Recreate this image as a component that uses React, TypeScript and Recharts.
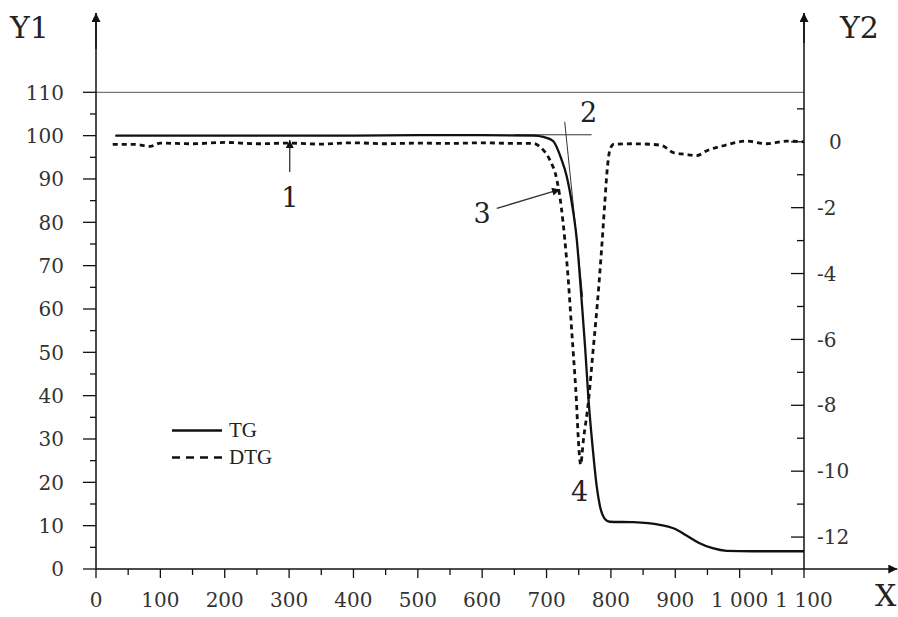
import React from "react";
import {
  ComposedChart,
  Line,
  XAxis,
  YAxis,
  ReferenceLine,
  ReferenceDot,
  Legend,
} from "recharts";

// TG curve (left axis, %)
const tgTemp = [30, 100, 200, 300, 400, 500, 600, 680, 695, 710, 723, 731, 739, 747, 754, 760, 765, 772, 778, 783, 791, 798, 835, 876, 897, 918, 937, 958, 980, 1020, 1100];
const tgMass = [100, 100, 100, 100, 100, 100.1, 100.1, 100, 99.7, 98.8, 94.6, 90.8, 84.7, 76, 63, 51, 39.5, 27.5, 19, 14.5, 11.5, 10.9, 10.8, 10.2, 9.4, 7.7, 6, 4.8, 4.2, 4.1, 4.1];

// DTG curve (right axis)
const dtgTemp = [26, 60, 84, 100, 150, 200, 250, 300, 350, 400, 450, 500, 550, 600, 650, 680, 690, 705, 716, 723, 728.5, 734, 739, 741.5, 746.5, 749, 752, 753, 757, 765, 772, 779, 785, 790, 794, 798, 804, 835, 865, 880, 897, 915, 933, 949, 975, 1011, 1042, 1073, 1100];
const dtgRate = [-0.08, -0.08, -0.14, -0.04, -0.06, -0.02, -0.06, -0.04, -0.07, -0.03, -0.06, -0.04, -0.05, -0.03, -0.05, -0.05, -0.16, -0.55, -1.15, -2.0, -3.0, -4.25, -5.7, -6.4, -7.9, -8.9, -9.7, -9.8, -9.1, -7.9, -6.4, -4.9, -3.4, -2.0, -0.9, -0.28, -0.08, -0.06, -0.08, -0.12, -0.33, -0.38, -0.42, -0.27, -0.12, 0.02, -0.06, 0.02, 0];

const xTicks = Array.from({ length: 23 }, (_, i) => i * 50);
const y1Ticks = Array.from({ length: 23 }, (_, i) => i * 5);
const y2Ticks = [1, 0, -1, -2, -3, -4, -5, -6, -7, -8, -9, -10, -11, -12];

const tgData = tgTemp.map((t, i) => ({ t, tg: tgMass[i] }));
const dtgData = dtgTemp.map((t, i) => ({ t, dtg: dtgRate[i] }));

const legendItems = [
  { name: "TG", dash: undefined },
  { name: "DTG", dash: "8 6" },
];

const Y1_MAX = 128.3;
const Y2_DOMAIN: [number, number] = [-12.97, 3.91];
const INK = "#111";
const tickFont = { fontFamily: "DejaVu Serif", fontSize: 20, fill: "#333" };
const noteFont = { fontFamily: "DejaVu Serif", fontSize: 27, fill: "#222" };

const LeftTick = (props: any) => {
  const { x, y, payload } = props;
  const major = payload.value % 10 === 0;
  return (
    <g>
      <line x1={x - (major ? 13 : 6)} x2={x} y1={y} y2={y} stroke={INK} strokeWidth={1.3} />
      {major && (
        <text x={x - 32} y={y} dy="0.36em" textAnchor="end" {...tickFont}>
          {payload.value}
        </text>
      )}
    </g>
  );
};

const RightTick = (props: any) => {
  const { x, y, payload } = props;
  const major = payload.value % 2 === 0;
  return (
    <g>
      <line x1={x - (major ? 13 : 7)} x2={x} y1={y} y2={y} stroke={INK} strokeWidth={1.3} />
      {major && (
        <text x={x + 13 + (payload.value >= 0 ? 12 : 0)} y={y} dy="0.36em" textAnchor="start" {...tickFont}>
          {payload.value}
        </text>
      )}
    </g>
  );
};

const fmtX = (v: number) => (v >= 1000 ? `1 ${String(v).slice(1)}` : String(v));

const BottomTick = (props: any) => {
  const { x, y, payload } = props;
  const major = payload.value % 100 === 0;
  return (
    <g>
      <line x1={x} x2={x} y1={y} y2={y + (major ? 9 : 6)} stroke={INK} strokeWidth={1.3} />
      {major && (
        <text x={x} y={y + 38} textAnchor="middle" {...tickFont}>
          {fmtX(payload.value)}
        </text>
      )}
    </g>
  );
};

const note = (txt: string) => (p: any) => (
  <text x={p.cx} y={p.cy} dy="0.36em" textAnchor="middle" {...noteFont}>
    {txt}
  </text>
);

const axisTitle = (txt: string, dx: number, y: number) => (p: any) => (
  <text x={p.viewBox.x + dx} y={y} fontFamily="DejaVu Serif" fontSize={30} fill="#222">
    {txt}
  </text>
);

const LegendBox = () => (
  <div style={{ fontFamily: "Liberation Serif", fontSize: 21, color: "#222", lineHeight: "27px" }}>
    {legendItems.map((it) => (
      <div key={it.name} style={{ display: "flex", alignItems: "center" }}>
        <svg width={57} height={27}>
          <line x1={0} x2={50} y1={13.5} y2={13.5} stroke={INK} strokeWidth={2.6} strokeDasharray={it.dash} />
        </svg>
        <span>{it.name}</span>
      </div>
    ))}
  </div>
);

export default function App() {
  return (
    <div style={{ position: "absolute", left: 0, top: 0, width: 898, height: 617, background: "#fff", overflow: "hidden" }}>
      <ComposedChart width={898} height={617} margin={{ top: 13, right: 34, bottom: 8, left: 36 }}>
        <defs>
          <marker id="axArrow" viewBox="0 0 10 10" refX="10" refY="5" markerWidth="14" markerHeight="9" markerUnits="userSpaceOnUse" orient="auto">
            <path d="M0,0 L10,5 L0,10 z" fill={INK} />
          </marker>
          <marker id="noteArrow" viewBox="0 0 10 10" refX="10" refY="5" markerWidth="11" markerHeight="8" markerUnits="userSpaceOnUse" orient="auto">
            <path d="M0,0 L10,5 L0,10 z" fill={INK} />
          </marker>
        </defs>
        <XAxis
          type="number"
          dataKey="t"
          domain={[0, 1100]}
          ticks={xTicks}
          interval={0}
          height={40}
          tickSize={0}
          tickMargin={0}
          tick={<BottomTick />}
          axisLine={{ stroke: INK, strokeWidth: 1.5 }}
          allowDataOverflow
          label={{ content: axisTitle("X", 779, 606) }}
        />
        <YAxis
          yAxisId="y1"
          orientation="left"
          domain={[0, Y1_MAX]}
          ticks={y1Ticks}
          interval={0}
          width={60}
          tickSize={0}
          tickMargin={0}
          tick={<LeftTick />}
          axisLine={{ stroke: INK, strokeWidth: 1.5 }}
          allowDataOverflow
          label={{ content: axisTitle("Y1", -26, 38) }}
        />
        <YAxis
          yAxisId="y2"
          orientation="right"
          domain={Y2_DOMAIN}
          ticks={y2Ticks}
          interval={0}
          width={60}
          tickSize={0}
          tickMargin={0}
          tick={<RightTick />}
          axisLine={{ stroke: INK, strokeWidth: 1.5 }}
          allowDataOverflow
          label={{ content: axisTitle("Y2", 36, 38) }}
        />

        <ReferenceLine yAxisId="y1" y={110} stroke="#555" strokeWidth={1} />

        {/* axis arrows */}
        <ReferenceLine yAxisId="y1" ifOverflow="visible" segment={[{ x: 1100, y: 0 }, { x: 1245, y: 0 }]} stroke={INK} strokeWidth={1.5} markerEnd="url(#axArrow)" />
        <ReferenceLine yAxisId="y1" ifOverflow="visible" segment={[{ x: 0, y: 120 }, { x: 0, y: Y1_MAX }]} stroke={INK} strokeWidth={1.5} markerEnd="url(#axArrow)" />
        <ReferenceLine yAxisId="y2" ifOverflow="visible" segment={[{ x: 1100, y: 3 }, { x: 1100, y: Y2_DOMAIN[1] }]} stroke={INK} strokeWidth={1.5} markerEnd="url(#axArrow)" />

        {/* tangent construction */}
        <ReferenceLine yAxisId="y1" ifOverflow="visible" segment={[{ x: 650, y: 100.2 }, { x: 770, y: 100.2 }]} stroke="#333" strokeWidth={1} />
        <ReferenceLine yAxisId="y1" ifOverflow="visible" segment={[{ x: 728.2, y: 103.2 }, { x: 756.2, y: 62.8 }]} stroke="#333" strokeWidth={1} />

        {/* annotation arrows */}
        <ReferenceLine yAxisId="y1" ifOverflow="visible" segment={[{ x: 301, y: 91.6 }, { x: 301, y: 99.0 }]} stroke="#333" strokeWidth={1.3} markerEnd="url(#noteArrow)" />
        <ReferenceLine yAxisId="y1" ifOverflow="visible" segment={[{ x: 622.6, y: 83.2 }, { x: 721, y: 87.6 }]} stroke="#333" strokeWidth={1.3} markerEnd="url(#noteArrow)" />

        <Line data={tgData} yAxisId="y1" dataKey="tg" name="TG" type="monotone" stroke={INK} strokeWidth={2.3} dot={false} isAnimationActive={false} />
        <Line data={dtgData} yAxisId="y2" dataKey="dtg" name="DTG" type="monotone" stroke={INK} strokeWidth={2.8} strokeDasharray="5 4" dot={false} isAnimationActive={false} />

        <ReferenceDot yAxisId="y1" x={301} y={85.7} ifOverflow="visible" shape={note("1")} />
        <ReferenceDot yAxisId="y1" x={765.5} y={105.5} ifOverflow="visible" shape={note("2")} />
        <ReferenceDot yAxisId="y1" x={600} y={82} ifOverflow="visible" shape={note("3")} />
        <ReferenceDot yAxisId="y1" x={751.5} y={17.9} ifOverflow="visible" shape={note("4")} />

        <Legend
          layout="vertical"
          align="center"
          verticalAlign="middle"
          wrapperStyle={{ left: 172, top: 417, width: 140 }}
          content={<LegendBox />}
        />
      </ComposedChart>
    </div>
  );
}
